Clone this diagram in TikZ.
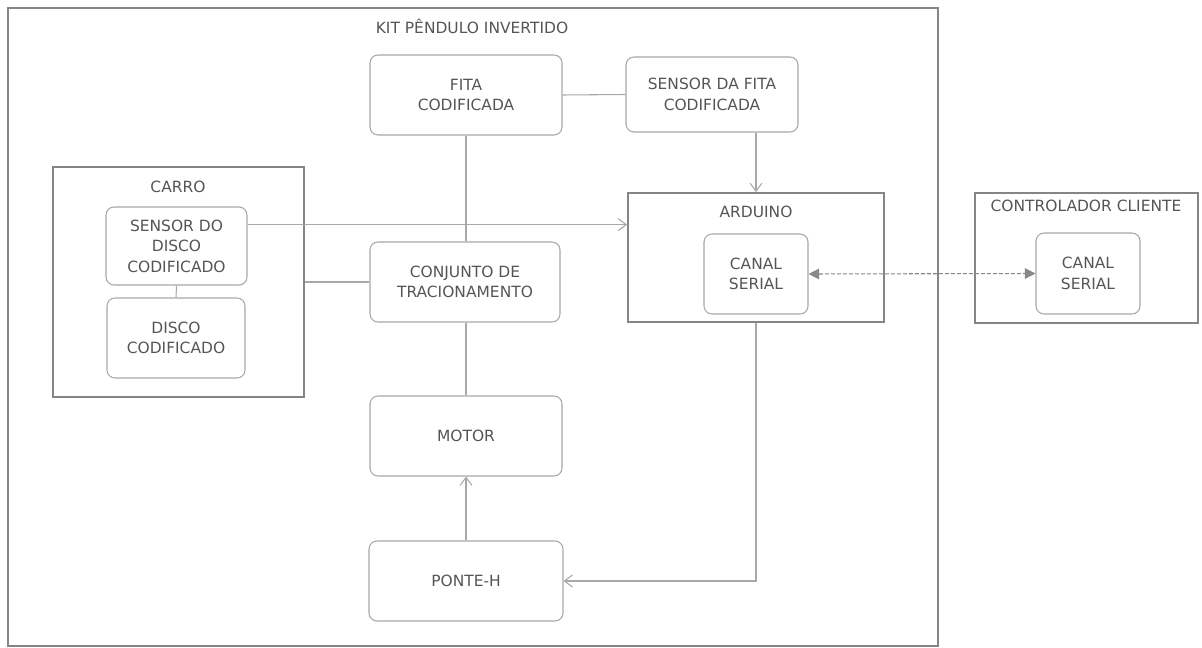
\documentclass[tikz,border=0pt]{standalone}
\usepackage{fontspec}
\setmainfont{DejaVu Sans}
\usetikzlibrary{arrows.meta,calc}
\definecolor{txt}{HTML}{555555}
\definecolor{edge}{HTML}{A8A8A8}
\definecolor{cont}{HTML}{858585}
\definecolor{dsh}{HTML}{888888}
\tikzset{
  blk/.style={draw=edge, line width=0.8pt, rounded corners=6pt, align=center, text=txt,
    font=\fontsize{11.6}{15.4}\selectfont, inner sep=0pt},
  frame/.style={draw=cont, line width=1.4pt, inner sep=0pt},
  ttl/.style={text=txt, font=\fontsize{11.6}{15.4}\selectfont, inner sep=0pt},
  wire/.style={draw=edge, line width=0.8pt},
  arr/.style={wire, -{Straight Barb[length=6pt,width=9pt]}},
  ser/.style={draw=dsh, line width=0.8pt, dashed, dash pattern=on 3pt off 1.5pt,
    {Triangle[length=8pt,width=8pt]}-{Triangle[length=8pt,width=8pt]}}
}
\begin{document}
\begin{tikzpicture}[x=0.75pt,y=-0.75pt]
\useasboundingbox (0,0) rectangle (1202,648);
% containers
\node[frame, minimum width=697.5pt, minimum height=478.5pt] (kit) at (473,327) {};
\node[frame, minimum width=192pt, minimum height=96.75pt] (ard) at (756,257.5) {};
\node[frame, minimum width=167.25pt, minimum height=97.5pt] (cli) at (1086.5,258) {};
\node[frame, minimum width=188.25pt, minimum height=172.5pt] (carro) at (178.5,282) {};
% titles
\node[ttl] (tkit) at (472,26) {KIT PÊNDULO INVERTIDO};
\node[ttl] (tard) at (756,212) {ARDUINO};
\node[ttl] (tcli) at (1086,206) {CONTROLADOR CLIENTE};
\node[ttl] (tcarro) at (178,187) {CARRO};
% blocks
\node[blk, minimum width=144pt, minimum height=60pt] (fita) at (466,95) {FITA\\CODIFICADA};
\node[blk, minimum width=129pt, minimum height=56.25pt] (sfita) at (712,94.5) {SENSOR DA FITA\\CODIFICADA};
\node[blk, minimum width=142.5pt, minimum height=60pt] (conj) at (465,282) {CONJUNTO DE\\TRACIONAMENTO};
\node[blk, minimum width=144pt, minimum height=60pt] (motor) at (466,436) {MOTOR};
\node[blk, minimum width=145.5pt, minimum height=60pt] (ponte) at (466,581) {PONTE-H};
\node[blk, minimum width=105.75pt, minimum height=58.5pt] (sdisco) at (176.5,246) {SENSOR DO\\DISCO\\CODIFICADO};
\node[blk, minimum width=103.5pt, minimum height=60pt] (disco) at (176,338) {DISCO\\CODIFICADO};
\node[blk, minimum width=78pt, minimum height=60pt] (can1) at (756,274) {CANAL\\SERIAL};
\node[blk, minimum width=78pt, minimum height=60.75pt] (can2) at (1088,273.5) {CANAL\\SERIAL};
% connectors
\draw[wire] (fita.east) -- (sfita.west);
\draw[arr] (sfita.south -| ard.north) -- (ard.north);
\coordinate (sdo) at ($(sdisco.north east)!0.23!(sdisco.south east)$);
\draw[arr] (sdo) -- (sdo -| ard.west);
\draw[wire] (sdisco.south) -- (disco.north);
\draw[wire] (carro.east) -- (conj.west);
\draw[wire] (fita.south) -- (fita.south |- conj.north);
\draw[wire] (conj.south -| motor.north) -- (motor.north);
\draw[arr] (ponte.north) -- (motor.south);
\draw[arr] (ard.south) |- (ponte.east);
\draw[ser] (can1.east) -- (can2.west);
\end{tikzpicture}
\end{document}
